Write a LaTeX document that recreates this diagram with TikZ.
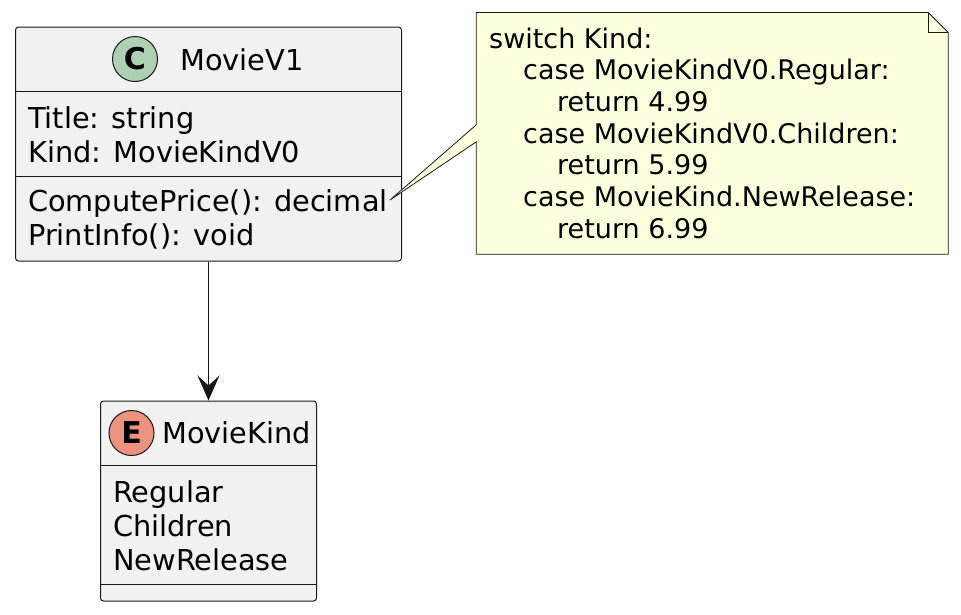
\documentclass[tikz,border=0pt]{standalone}
\usepackage{fontspec}
\setmainfont{DejaVu Sans}
\usetikzlibrary{arrows.meta}
\definecolor{umlline}{HTML}{181818}
\definecolor{umlfill}{HTML}{F1F1F1}
\definecolor{classicon}{HTML}{ADD1B2}
\definecolor{enumicon}{HTML}{EB937F}
\definecolor{notefill}{HTML}{FEFFDD}
\tikzset{
  umlbox/.style={shape=rectangle,draw=umlline,fill=umlfill,line width=1pt,rounded corners=3pt},
  umlicon/.style={shape=circle,draw=umlline,line width=1pt,minimum size=45pt,inner sep=0pt,font=\fontsize{30}{30}\selectfont\bfseries},
  umltext/.style={anchor=base west,inner sep=0pt,font=\fontsize{28.8}{33}\selectfont},
  notetext/.style={anchor=base west,inner sep=0pt,font=\fontsize{27}{32}\selectfont},
  umlsep/.style={draw=umlline,line width=1pt}
}
\begin{document}
\begin{tikzpicture}[x=1pt,y=-1pt,>={Stealth[length=25pt,width=22pt,inset=10pt]}]
\useasboundingbox (0,0) rectangle (961,614);
\node (movie) at (208.5,144) [umlbox,minimum width=386pt,minimum height=234pt] {};
\node (kind) at (208.5,501) [umlbox,minimum width=216pt,minimum height=200pt] {};
\draw [umlsep] ([yshift=-65pt]movie.north west) -- ([yshift=-65pt]movie.north east);
\draw [umlsep] ([yshift=-150pt]movie.north west) -- ([yshift=-150pt]movie.north east);
\draw [umlsep] ([yshift=-65pt]kind.north west) -- ([yshift=-65pt]kind.north east);
\draw [umlsep] ([yshift=-184pt]kind.north west) -- ([yshift=-184pt]kind.north east);
\node (cicon) at (135,59) [umlicon,fill=classicon] {C};
\node (eicon) at (131.5,433) [umlicon,fill=enumicon] {E};
\node (movietitle) at (180,70) [umltext] {MovieV1};
\node (title) at (28,128) [umltext] {Title: string};
\node (kindfield) at (28,162) [umltext] {Kind: MovieKindV0};
\node (compute) at (28,211) [umltext] {ComputePrice(): decimal};
\node (printinfo) at (28,245) [umltext] {PrintInfo(): void};
\node (kindtitle) at (162,443) [umltext] {MovieKind};
\node (regular) at (113,502) [umltext] {Regular};
\node (children) at (113,536) [umltext] {Children};
\node (newrelease) at (113,570) [umltext] {NewRelease};
\draw [->,draw=umlline,fill=umlline,line width=1.5pt] (movie) -- (kind);
\node (note) at (712.25,133.35) [minimum width=471.5pt,minimum height=241.3pt,inner sep=0pt] {};
\coordinate (notetip) at (390,200);
\draw [draw=umlline,fill=notefill,line width=0.8pt] (note.north west) -- ([xshift=-20pt]note.north east) -- ([yshift=-20pt]note.north east) -- (note.south east) -- (note.south west) -- ([yshift=-129.3pt]note.north west) -- (notetip) -- ([yshift=-112.3pt]note.north west) -- cycle;
\draw [draw=umlline,line width=0.8pt] ([xshift=-20pt]note.north east) -- ([xshift=-20pt,yshift=-20pt]note.north east) -- ([yshift=-20pt]note.north east);
\node (switch) at (489,48) [notetext] {switch Kind:};
\node (caseregular) at (523,79.7) [notetext] {case MovieKindV0.Regular:};
\node (retregular) at (557,111.4) [notetext] {return 4.99};
\node (casechildren) at (523,143.1) [notetext] {case MovieKindV0.Children:};
\node (retchildren) at (557,174.8) [notetext] {return 5.99};
\node (casenew) at (523,206.5) [notetext] {case MovieKind.NewRelease:};
\node (retnew) at (557,238.2) [notetext] {return 6.99};
\end{tikzpicture}
\end{document}
